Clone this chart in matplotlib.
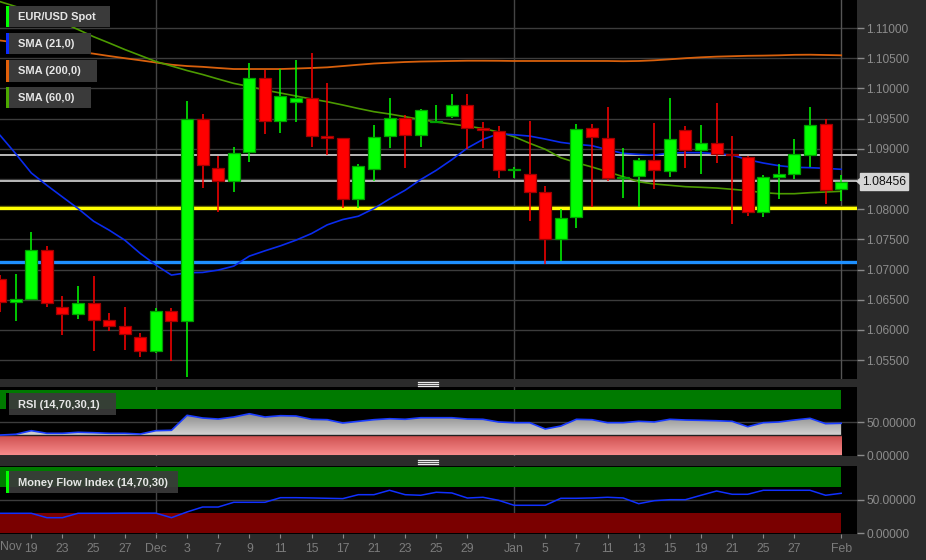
import matplotlib
matplotlib.use('Agg')
import matplotlib.pyplot as plt
import numpy as np
from matplotlib.patches import Rectangle, Polygon
from matplotlib.colors import LinearSegmentedColormap
from matplotlib.lines import Line2D

plt.rcParams['font.family'] = ['Liberation Sans', 'DejaVu Sans']

# ---------------- data ----------------
opens = [1.06837, 1.06457, 1.06512, 1.07321, 1.06374, 1.06270, 1.06451, 1.06160, 1.06060, 1.05879,
         1.05653, 1.06314, 1.06154, 1.09491, 1.08676, 1.08461, 1.08940, 1.10174, 1.09458, 1.09777,
         1.09838, 1.09205, 1.09172, 1.08175, 1.08665, 1.09205, 1.09502, 1.09227, 1.09436, 1.09541,
         1.09728, 1.09337, 1.09298, 1.08650, 1.08588, 1.08280, 1.07498, 1.07867, 1.09337, 1.09183,
         1.08516, 1.08544, 1.08814, 1.08637, 1.09315, 1.08984, 1.09095, 1.08907, 1.08858, 1.07949,
         1.08538, 1.08582, 1.08896, 1.09403, 1.08329]
highs = [1.06908, 1.06925, 1.07619, 1.07387, 1.06561, 1.06727, 1.06892, 1.06275, 1.06385, 1.05956,
         1.06363, 1.06363, 1.09799, 1.09579, 1.08880, 1.09023, 1.10427, 1.10306, 1.10317, 1.10477,
         1.10592, 1.10097, 1.09183, 1.08742, 1.09386, 1.09833, 1.09563, 1.09667, 1.09717, 1.09915,
         1.09915, 1.09436, 1.09370, 1.08693, 1.09453, 1.08379, 1.08004, 1.09403, 1.09403, 1.09700,
         1.09006, 1.08841, 1.09420, 1.09849, 1.09370, 1.09386, 1.09750, 1.09205, 1.08880, 1.08560,
         1.08742, 1.09155, 1.09684, 1.09486, 1.08560]
lows = [1.06303, 1.06154, 1.06506, 1.06385, 1.05923, 1.06187, 1.05658, 1.05989, 1.05669, 1.05559,
        1.05614, 1.05493, 1.05218, 1.08351, 1.07955, 1.08285, 1.08781, 1.09238, 1.09260, 1.09442,
        1.09028, 1.08891, 1.08026, 1.08026, 1.08461, 1.09012, 1.08682, 1.09028, 1.09425, 1.09513,
        1.09001, 1.09012, 1.08516, 1.08516, 1.07806, 1.07096, 1.07145, 1.07690, 1.08037, 1.08461,
        1.08186, 1.08037, 1.08335, 1.08533, 1.08682, 1.08582, 1.08764, 1.07756, 1.07889, 1.07872,
        1.08164, 1.08494, 1.08693, 1.08087, 1.08131]
closes = [1.06468, 1.06506, 1.07321, 1.06451, 1.06270, 1.06446, 1.06165, 1.06066, 1.05934, 1.05658,
          1.06314, 1.06148, 1.09491, 1.08737, 1.08461, 1.08935, 1.10174, 1.09458, 1.09882, 1.09849,
          1.09210, 1.09172, 1.08175, 1.08720, 1.09199, 1.09502, 1.09221, 1.09634, 1.09453, 1.09728,
          1.09342, 1.09304, 1.08654, 1.08656, 1.08285, 1.07498, 1.07861, 1.09331, 1.09188, 1.08516,
          1.08538, 1.08814, 1.08643, 1.09166, 1.08984, 1.09095, 1.08907, 1.08891, 1.07960, 1.08538,
          1.08577, 1.08907, 1.09397, 1.08324, 1.08456]

sma21 = [1.09221, 1.08918, 1.08599, 1.08395, 1.08202, 1.08010, 1.07800, 1.07652, 1.07487, 1.07266,
         1.07074, 1.06908, 1.06947, 1.06952, 1.06991, 1.07057, 1.07222, 1.07310, 1.07393, 1.07487,
         1.07597, 1.07740, 1.07828, 1.07883, 1.08010, 1.08169, 1.08313, 1.08489, 1.08643, 1.08819,
         1.09012, 1.09155, 1.09249, 1.09232, 1.09210, 1.09161, 1.09106, 1.09073, 1.09051, 1.08984,
         1.08924, 1.08907, 1.08896, 1.08929, 1.08935, 1.08935, 1.08918, 1.08896, 1.08819, 1.08764,
         1.08720, 1.08693, 1.08687, 1.08676, 1.08660]
sma200 = [1.10793, 1.10760, 1.10723, 1.10685, 1.10649, 1.10611, 1.10575, 1.10536, 1.10500, 1.10465,
          1.10429, 1.10392, 1.10370, 1.10357, 1.10338, 1.10321, 1.10321, 1.10321, 1.10321, 1.10329,
          1.10338, 1.10349, 1.10370, 1.10392, 1.10412, 1.10425, 1.10437, 1.10445, 1.10449, 1.10454,
          1.10458, 1.10458, 1.10457, 1.10454, 1.10454, 1.10454, 1.10454, 1.10454, 1.10454, 1.10454,
          1.10450, 1.10454, 1.10465, 1.10482, 1.10500, 1.10515, 1.10526, 1.10533, 1.10540, 1.10543,
          1.10548, 1.10556, 1.10558, 1.10553, 1.10548]
sma60 = [1.11436, 1.11356, 1.11273, 1.11190, 1.11091, 1.10975, 1.10856, 1.10752, 1.10644, 1.10545,
         1.10445, 1.10371, 1.10296, 1.10230, 1.10155, 1.10083, 1.10031, 1.09973, 1.09923, 1.09874,
         1.09824, 1.09779, 1.09725, 1.09667, 1.09614, 1.09576, 1.09531, 1.09485, 1.09443, 1.09410,
         1.09374, 1.09336, 1.09278, 1.09200, 1.09091, 1.08991, 1.08852, 1.08769, 1.08698, 1.08620,
         1.08537, 1.08454, 1.08417, 1.08395, 1.08372, 1.08362, 1.08350, 1.08329, 1.08306, 1.08273,
         1.08256, 1.08256, 1.08273, 1.08284, 1.08296]

rsi = [30.5, 31.7, 37.2, 33.2, 33.2, 34.7, 34.1, 33.2, 33.2, 32.1,
       37.2, 37.8, 60.7, 56.6, 55.0, 58.1, 63.1, 58.1, 60.1, 59.6,
       54.6, 54.0, 48.9, 51.5, 54.0, 55.5, 54.6, 57.0, 57.0, 57.0,
       55.0, 54.6, 50.5, 49.4, 49.4, 39.8, 44.3, 54.6, 54.0, 49.4,
       49.4, 51.5, 50.5, 54.6, 53.5, 53.0, 52.4, 51.5, 43.3, 49.4,
       50.5, 53.5, 56.1, 47.9, 48.5]
mfi = [30.0, 30.0, 30.0, 23.4, 23.4, 30.0, 30.0, 30.0, 30.2, 30.2,
       30.2, 23.4, 32.0, 39.4, 39.4, 46.5, 46.5, 46.5, 53.4, 53.4,
       53.0, 52.5, 52.0, 57.9, 57.9, 64.5, 57.9, 57.0, 61.5, 60.5,
       52.9, 54.0, 49.5, 42.0, 42.0, 42.0, 52.5, 52.5, 53.0, 54.0,
       53.0, 44.4, 48.9, 50.4, 50.4, 57.0, 63.4, 58.5, 58.5, 64.5,
       64.5, 64.5, 64.5, 57.0, 60.0]

level_yellow = 1.0802
level_blue = 1.0713
levels_white = [1.0890, 1.0846]
last_price = 1.08456
price_ticks = [1.055, 1.060, 1.065, 1.070, 1.075, 1.080, 1.085, 1.090, 1.095, 1.100, 1.105, 1.110]
hidden_tick = 1.085   # label covered by the last-price box
osc_ticks = [0, 50]
tick_idx = [2, 4, 6, 8, 10, 12, 14, 16, 18, 20, 22, 24, 26, 28, 30, 33, 35, 37, 39, 41, 43, 45, 47, 49, 51, 54]
tick_labels = ['19', '23', '25', '27', 'Dec', '3', '7', '9', '11', '15', '17', '21', '23', '25', '29',
               'Jan', '5', '7', '11', '13', '15', '19', '21', '25', '27', 'Feb']
month_idx = [10, 33]
legend_names = ['EUR/USD Spot', 'SMA (21,0)', 'SMA (200,0)', 'SMA (60,0)']
legend_cols = ['#00ff00', '#0a2cff', '#e0600a', '#4ca800']

# ---------------- layout ----------------
W, H = 926, 560
BG = '#2b2b2b'
GRID = '#3c3c3c'
fig = plt.figure(figsize=(W / 100, H / 100), dpi=100, facecolor=BG)

def fx(px):
    return px / W

def fy(py):
    return 1 - py / H

PX_PER_BAR = 15.577
n = len(opens)
x = np.arange(n)
XR = 857 / PX_PER_BAR

ax = fig.add_axes([0, fy(379), fx(857), 379 / H])
ax_r = fig.add_axes([0, fy(456), fx(857), (456 - 387.3) / H])
ax_m = fig.add_axes([0, fy(534), fx(857), 68 / H])

for a in (ax, ax_r, ax_m):
    a.set_facecolor('black')
    for s in a.spines.values():
        s.set_visible(False)
    a.set_xlim(-0.01, XR)
    a.yaxis.tick_right()
    a.tick_params(axis='y', length=5, width=1, color='#8a8a8a', labelcolor='#8c8c8c',
                  labelsize=8.6, pad=1.5, direction='out')
    for m in month_idx:
        a.axvline(m, color='#444444', lw=1, zorder=1)

# ---------------- main chart ----------------
ax.set_ylim(1.05187, 1.11464)
ax.set_yticks(price_ticks)
ax.set_yticklabels(['' if abs(t - hidden_tick) < 1e-9 else f'{t:.5f}' for t in price_ticks])
ax.set_xticks([])
for t in price_ticks:
    ax.axhline(t, color=GRID, lw=1, zorder=1)
ax.axvline(x[-1], color='#555555', lw=1, zorder=1)

for lv in levels_white:
    ax.axhline(lv, color='#c8c8c8', lw=1.3, zorder=2)
ax.axhline(level_yellow, color='#6a6a00', lw=3.2, zorder=2)
ax.axhline(level_yellow, color='#ffff00', lw=2.2, zorder=2)
ax.axhline(level_blue, color='#1e90ff', lw=2.4, zorder=2)

ax.plot(x, sma200, color='#d8600c', lw=1.3, zorder=3)
ax.plot(x, sma60, color='#4c9a00', lw=1.2, zorder=3)
ax.plot(x, sma21, color='#0a2cee', lw=1.2, zorder=3)

bw = 12 / PX_PER_BAR
for i in range(n):
    o, h, l, c = opens[i], highs[i], lows[i], closes[i]
    up = c >= o
    col = '#00ff00' if up else '#ff0000'
    ecol = '#00a000' if up else '#a00000'
    ax.plot([x[i], x[i]], [l, h], color=col, lw=1.1, zorder=4, solid_capstyle='butt')
    bot, top = min(o, c), max(o, c)
    hgt = max(top - bot, 0.00008)
    ax.add_patch(Rectangle((x[i] - bw / 2, bot), bw, hgt, facecolor=col, edgecolor=ecol,
                           lw=0.9, zorder=5))

# current price label
fig.text(fx(884), fy(181.5), f'{last_price:.5f}', ha='center', va='center', fontsize=8.8,
         color='#111111', zorder=10,
         bbox=dict(boxstyle='square,pad=0.2', fc='#d6d6d6', ec='#d6d6d6'))
fig.patches.append(Polygon([[fx(856), fy(181.5)], [fx(860.5), fy(177.5)], [fx(860.5), fy(185.5)]],
                           closed=True, transform=fig.transFigure, fc='#d6d6d6', ec='none'))

# ---------------- RSI ----------------
ax_r.set_ylim(-1.5, 103.5)
ax_r.set_yticks(osc_ticks)
ax_r.set_yticklabels([f'{t:.5f}' for t in osc_ticks])
ax_r.set_xticks([])
ax_r.axhline(50, color=GRID, lw=1, zorder=1)
ax_r.fill_between([0, x[-1]], 70, 100, color='#007a00', lw=0, zorder=1.5)
grad = np.linspace(0, 1, 256).reshape(-1, 1)
pink = LinearSegmentedColormap.from_list('pink', ['#f88c8c', '#cc4e4e'])
ax_r.imshow(grad, extent=(0, x[-1], 0, 30), origin='lower', cmap=pink, aspect='auto', zorder=2)
rs = np.array(rsi)
poly = Polygon(np.column_stack([np.concatenate([x, x[::-1]]),
                                np.concatenate([np.maximum(rs, 30), np.full(n, 30.0)])]),
               closed=True, fc='none', ec='none')
ax_r.add_patch(poly)
grey = LinearSegmentedColormap.from_list('grey', ['#d4d4d4', '#808080'])
im = ax_r.imshow(grad, extent=(0, x[-1], 30, 66), origin='lower', cmap=grey, aspect='auto', zorder=2.5)
im.set_clip_path(poly)
ax_r.plot([0, x[-1]], [30, 30], color='#202020', lw=1, zorder=3)
ax_r.plot([0, x[-1]], [-0.8, -0.8], color='#e8e8e8', lw=1, zorder=3)
ax_r.plot(x, rs, color='#1a3cff', lw=1.2, zorder=4)
ax_r.set_xlim(-0.01, XR)
ax_r.set_ylim(-1.5, 103.5)

# ---------------- MFI ----------------
ax_m.set_ylim(-1.05, 100.9)
ax_m.set_yticks(osc_ticks)
ax_m.set_yticklabels([f'{t:.5f}' for t in osc_ticks])
ax_m.axhline(50, color=GRID, lw=1, zorder=1)
ax_m.fill_between([0, x[-1]], 70, 100, color='#007a00', lw=0, zorder=1.5)
ax_m.fill_between([0, x[-1]], 0, 30, color='#7a0000', lw=0, zorder=1.5)
ax_m.plot(x, mfi, color='#1030ff', lw=1.1, zorder=4)
ax_m.set_xticks(tick_idx)
ax_m.set_xticklabels(tick_labels)
ax_m.tick_params(axis='x', length=3, color='#8a8a8a', labelcolor='#7c7c7c', labelsize=8.8, pad=3.5)
fig.text(fx(0), fy(547.5), 'Nov', ha='left', va='center', fontsize=8.8, color='#7c7c7c')

# ---------------- separators / grips ----------------
for gy in (381.5, 383.5, 385.5, 460, 462, 464):
    fig.lines.append(Line2D([fx(418), fx(438)], [fy(gy), fy(gy)], transform=fig.transFigure,
                            color='#e8e8e8', lw=0.9))

# ---------------- legend boxes ----------------
def label_box(x0, x1, y0, y1, text, col, alpha=1.0):
    fig.patches.append(Rectangle((fx(x0), fy(y1)), fx(x1 - x0), (y1 - y0) / H,
                                 transform=fig.transFigure, fc='#3a3a3a', ec='none', alpha=alpha, zorder=20))
    fig.patches.append(Rectangle((fx(6), fy(y1)), fx(3), (y1 - y0) / H,
                                 transform=fig.transFigure, fc=col, ec='none', zorder=21))
    fig.text(fx(18), fy((y0 + y1) / 2 + 0.5), text, ha='left', va='center', fontsize=8.0,
             fontweight='bold', color='#e6e6e6', zorder=22)

boxes = [(9, 110, 6, 27), (9, 91, 33, 54), (9, 97, 60, 82), (9, 91, 87, 108)]
for (bx0, bx1, by0, by1), name, col in zip(boxes, legend_names, legend_cols):
    label_box(bx0, bx1, by0, by1, name, col)
label_box(9, 116, 393, 415, 'RSI (14,70,30,1)', '#000000', alpha=0.92)
label_box(9, 178, 471, 493, 'Money Flow Index (14,70,30)', '#00ff00', alpha=0.92)

fig.savefig('out.png', dpi=100, facecolor=BG)
